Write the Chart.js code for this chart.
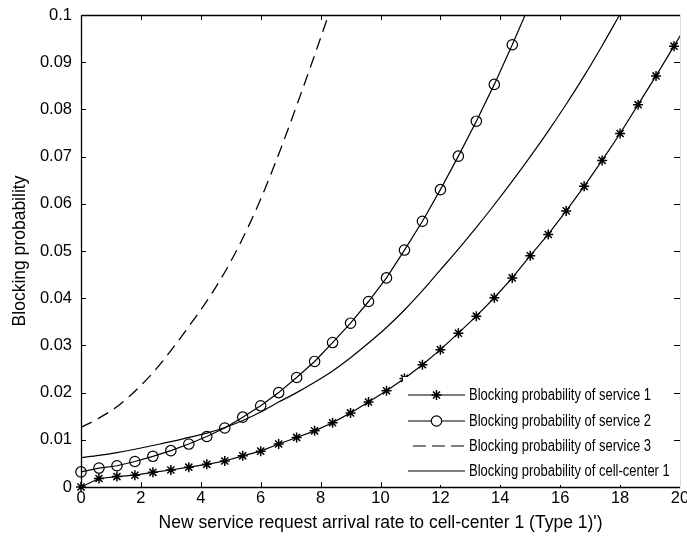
<!DOCTYPE html>
<html>
<head>
<meta charset="utf-8">
<script src="https://cdn.jsdelivr.net/npm/chart.js@4.4.1/dist/chart.umd.min.js"></script>
<style>
html,body{margin:0;padding:0;background:#fff;}
canvas{display:block;}
</style>
</head>
<body>
<canvas id="c" width="687" height="542"></canvas>
<script>
// ---- data ----
const xService1 = [0,0.6,1.2,1.8,2.4,3.0,3.6,4.2,4.8,5.4,6.0,6.6,7.2,7.8,8.4,9.0,9.6,10.2,10.8,11.4,12.0,12.6,13.2,13.8,14.4,15.0,15.6,16.2,16.8,17.4,18.0,18.6,19.2,19.8,20.4];
const service1 = [0,0.0018,0.0022,0.0025,0.0031,0.0036,0.0042,0.0048,0.0055,0.0066,0.0076,0.0091,0.0105,0.0119,0.0136,0.0157,0.0180,0.0204,0.0230,0.0259,0.0291,0.0326,0.0362,0.0401,0.0443,0.0490,0.0535,0.0585,0.0637,0.0692,0.0749,0.0810,0.0871,0.0934,0.0998];

const xService2 = [0,0.6,1.2,1.8,2.4,3.0,3.6,4.2,4.8,5.4,6.0,6.6,7.2,7.8,8.4,9.0,9.6,10.2,10.8,11.4,12.0,12.6,13.2,13.8,14.4,15.0];
const service2 = [0.0032,0.0040,0.0045,0.0054,0.0065,0.0077,0.0091,0.0107,0.0125,0.0148,0.0172,0.0200,0.0232,0.0266,0.0306,0.0347,0.0393,0.0443,0.0502,0.0563,0.0630,0.0701,0.0775,0.0853,0.0937,0.1025];

const xService3 = [0,0.6,1.2,1.8,2.4,3.0,3.6,4.2,4.8,5.4,6.0,6.6,7.2,7.8,8.4];
const service3 = [0.0126,0.0146,0.0170,0.0203,0.0242,0.0289,0.0340,0.0394,0.0455,0.0527,0.0610,0.0705,0.0808,0.0915,0.1025];

const xCell = [0,0.6,1.2,1.8,2.4,3.0,3.6,4.2,4.8,5.4,6.0,6.6,7.2,7.8,8.4,9.0,9.6,10.2,10.8,11.4,12.0,12.6,13.2,13.8,14.4,15.0,15.6,16.2,16.8,17.4,18.0];
const cellCenter = [0.0062,0.0067,0.0073,0.0080,0.0088,0.0096,0.0105,0.0114,0.0126,0.0141,0.0159,0.0180,0.0200,0.0222,0.0246,0.0274,0.0305,0.0338,0.0375,0.0416,0.0460,0.0504,0.0550,0.0598,0.0648,0.0700,0.0754,0.0811,0.0871,0.0935,0.1002];

const xTickValues = [0,2,4,6,8,10,12,14,16,18,20];
const xTickLabels = ['0','2','4','6','8','10','12','14','16','18','20'];
const yTickValues = [0,0.01,0.02,0.03,0.04,0.05,0.06,0.07,0.08,0.09,0.1];
const yTickLabels = ['0','0.01','0.02','0.03','0.04','0.05','0.06','0.07','0.08','0.09','0.1'];

const seriesNames = ['Blocking probability of service 1','Blocking probability of service 2','Blocking probability of service 3','Blocking probability of cell-center 1'];
const xTitle = "New service request arrival rate to cell-center 1 (Type 1)')";
const yTitle = 'Blocking probability';

// ---- chart ----
const FONT = '"Liberation Sans", Arial, Helvetica, sans-serif';
const pts = (xs, ys) => xs.map((x, i) => ({x: x, y: ys[i]}));
const clipBox = {left: 10, top: 0, right: 0, bottom: 10};

function nearestLabel(vals, labels, v) {
  let best = 0;
  for (let i = 1; i < vals.length; i++) if (Math.abs(vals[i] - v) < Math.abs(vals[best] - v)) best = i;
  return Math.abs(vals[best] - v) < 1e-6 ? labels[best] : '';
}

function drawStar(ctx, x, y, r) {
  ctx.beginPath();
  ctx.moveTo(x - r, y); ctx.lineTo(x + r, y);
  ctx.moveTo(x, y - r); ctx.lineTo(x, y + r);
  const d = r * Math.SQRT1_2;
  ctx.moveTo(x - d, y - d); ctx.lineTo(x + d, y + d);
  ctx.moveTo(x - d, y + d); ctx.lineTo(x + d, y - d);
  ctx.stroke();
}

const framePlugin = {
  id: 'frameAndLegend',
  afterDatasetsDraw(chart) {
    const ctx = chart.ctx;
    const a = chart.chartArea;
    const xs = chart.scales.x, ys = chart.scales.y;
    ctx.save();
    ctx.strokeStyle = '#000';
    ctx.lineWidth = 1;
    // inward tick marks
    ctx.beginPath();
    xTickValues.forEach(v => {
      const px = Math.round(xs.getPixelForValue(v)) + 0.5;
      ctx.moveTo(px, a.top); ctx.lineTo(px, a.top + 5);
      ctx.moveTo(px, a.bottom); ctx.lineTo(px, a.bottom - 5);
    });
    yTickValues.forEach(v => {
      const py = Math.round(ys.getPixelForValue(v)) + 0.5;
      ctx.moveTo(a.left, py); ctx.lineTo(a.left + 5, py);
      ctx.moveTo(a.right, py); ctx.lineTo(a.right - 6, py);
    });
    ctx.stroke();

    // legend box (drawn over the plot, like the reference)
    const bx = 403, by = 377, bw = 268, bh = 108;
    ctx.fillStyle = '#fff';
    ctx.fillRect(bx, by, bw, bh);
    const rowY = [395, 421, 446, 471];
    const lx0 = 408, lx1 = 465, mx = 436.5;
    ctx.font = '16px ' + FONT;
    const sx = 182 / ctx.measureText(seriesNames[0]).width;
    seriesNames.forEach((name, i) => {
      const y = rowY[i];
      ctx.save();
      ctx.strokeStyle = '#000';
      ctx.lineWidth = 1.2;
      ctx.beginPath();
      if (i === 2) {
        ctx.setLineDash([13, 6]);
        ctx.moveTo(413, y); ctx.lineTo(465, y);
      } else {
        ctx.moveTo(lx0, y); ctx.lineTo(lx1, y);
      }
      ctx.stroke();
      ctx.setLineDash([]);
      if (i === 0) {
        ctx.lineWidth = 1.5;
        drawStar(ctx, mx, y, 5);
      } else if (i === 1) {
        ctx.fillStyle = '#fff';
        ctx.beginPath();
        ctx.arc(mx, y, 5.2, 0, Math.PI * 2);
        ctx.fill();
        ctx.stroke();
      }
      ctx.translate(469, y + 1);
      ctx.scale(sx, 1);
      ctx.fillStyle = '#000';
      ctx.textBaseline = 'middle';
      ctx.textAlign = 'left';
      ctx.fillText(name, 0, 0);
      ctx.restore();
    });

    // axes frame
    ctx.strokeStyle = '#000';
    ctx.lineWidth = 1.3;
    ctx.beginPath();
    ctx.moveTo(a.left + 0.5, a.top + 0.5); ctx.lineTo(a.right, a.top + 0.5);
    ctx.moveTo(a.left + 0.5, a.top + 0.5); ctx.lineTo(a.left + 0.5, a.bottom + 0.5);
    ctx.moveTo(a.left + 0.5, a.bottom + 0.5); ctx.lineTo(a.right, a.bottom + 0.5);
    ctx.stroke();
    ctx.strokeStyle = '#d8d8d8';
    ctx.lineWidth = 1;
    ctx.beginPath();
    ctx.moveTo(a.right + 0.5, a.top); ctx.lineTo(a.right + 0.5, a.bottom);
    ctx.stroke();
    ctx.restore();
  }
};

new Chart(document.getElementById('c'), {
  type: 'line',
  data: {
    datasets: [
      {
        label: seriesNames[0], data: pts(xService1, service1),
        borderColor: '#000', borderWidth: 1.2, tension: 0,
        pointStyle: 'star', pointRadius: 5, pointBorderWidth: 1.5,
        pointBorderColor: '#000', pointBackgroundColor: '#000', clip: clipBox
      },
      {
        label: seriesNames[1], data: pts(xService2, service2),
        borderColor: '#000', borderWidth: 1.2, tension: 0,
        pointStyle: 'circle', pointRadius: 5.2, pointBorderWidth: 1.2,
        pointBorderColor: '#000', pointBackgroundColor: 'rgba(0,0,0,0)', clip: clipBox
      },
      {
        label: seriesNames[2], data: pts(xService3, service3),
        borderColor: '#000', borderWidth: 1.3, borderDash: [12, 7],
        cubicInterpolationMode: 'monotone', pointRadius: 0, clip: clipBox
      },
      {
        label: seriesNames[3], data: pts(xCell, cellCenter),
        borderColor: '#000', borderWidth: 1.2,
        cubicInterpolationMode: 'monotone', pointRadius: 0, clip: clipBox
      }
    ]
  },
  options: {
    responsive: false,
    animation: false,
    devicePixelRatio: 1,
    layout: {padding: {left: 0, right: 7, top: 15, bottom: 0}},
    plugins: {legend: {display: false}, tooltip: {enabled: false}},
    scales: {
      x: {
        type: 'linear', min: 0, max: 20,
        grid: {display: false, drawTicks: false},
        border: {display: false},
        ticks: {
          stepSize: 2, autoSkip: false, maxRotation: 0, padding: 2,
          color: '#000', font: {size: 16.5, family: FONT},
          callback: v => nearestLabel(xTickValues, xTickLabels, v)
        },
        title: {display: true, text: xTitle, color: '#000', font: {size: 17.5, family: FONT}, padding: {top: 0, bottom: 8}},
        afterFit(s) { s.height = 55; s.paddingLeft = 0; s.paddingRight = 0; }
      },
      y: {
        type: 'linear', min: 0, max: 0.1,
        grid: {display: false, drawTicks: false},
        border: {display: false},
        ticks: {
          stepSize: 0.01, autoSkip: false, padding: 9,
          color: '#000', font: {size: 16.5, family: FONT},
          callback: v => nearestLabel(yTickValues, yTickLabels, v)
        },
        title: {display: true, text: yTitle, color: '#000', font: {size: 17.5, family: FONT}, padding: {top: 9.5, bottom: 0}},
        afterFit(s) { s.width = 81; s.paddingTop = 0; s.paddingBottom = 0; }
      }
    }
  },
  plugins: [framePlugin]
});
</script>
</body>
</html>
